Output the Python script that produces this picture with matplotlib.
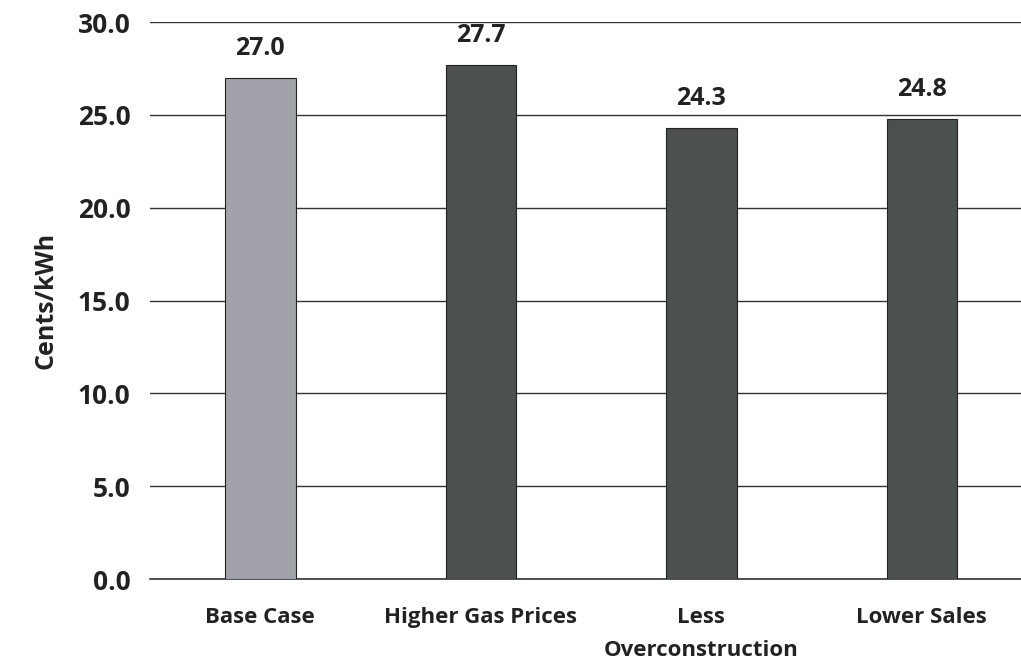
import numpy as np
import matplotlib.pyplot as plt

categories = ["Base Case", "Higher Gas Prices", "Less\nOverconstruction", "Lower Sales"]
values = [27.0, 27.7, 24.3, 24.8]
bar_colors = ["#a2a2aa", "#4c514f", "#4c514f", "#4c514f"]

plt.rcParams['font.family'] = ['Open Sans', 'DejaVu Sans']

fig = plt.figure(figsize=(10.21, 6.71), dpi=100)
ax = fig.add_axes([0.147, 0.137, 0.853, 0.830])

x = np.arange(len(categories))
bars = ax.bar(x, values, width=0.32, color=bar_colors, edgecolor="#222222", linewidth=0.8, zorder=3)

for xi, v in zip(x, values):
    ax.annotate(f"{v:.1f}", (xi, v), xytext=(0, 12), textcoords="offset points",
                ha="center", va="bottom", fontsize=18, fontweight="bold", color="#222222")

ax.set_ylim(0, 30)
ax.set_xlim(-0.5, 3.45)
ax.set_yticks(np.arange(0, 31, 5))
ax.set_yticklabels([f"{t:.1f}" for t in np.arange(0, 31, 5)], fontsize=19, fontweight="bold", color="#222222")
ax.set_xticks(x)
ax.set_xticklabels(categories, fontsize=16, fontweight="bold", color="#222222", linespacing=1.75, va="top")
ax.tick_params(axis="both", length=0)
ax.tick_params(axis="y", pad=14)
ax.tick_params(axis="x", pad=20)
ax.set_ylabel("Cents/kWh", fontsize=18, fontweight="bold", color="#222222", labelpad=14)

ax.yaxis.grid(True, color="#333333", linewidth=1.0, zorder=0)
ax.axhline(0, color="#333333", linewidth=1.2, zorder=2, clip_on=False)
for s in ax.spines.values():
    s.set_visible(False)

fig.savefig("out.png", dpi=100)
